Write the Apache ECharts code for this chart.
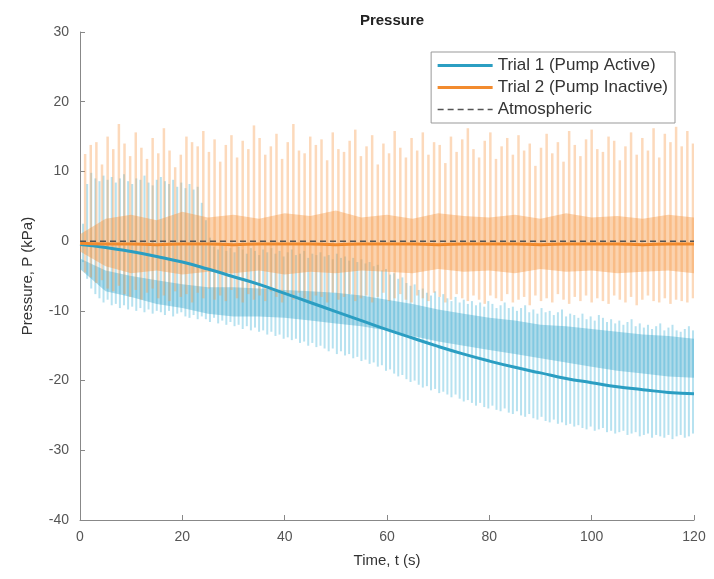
<!DOCTYPE html>
<html><head><meta charset="utf-8">
<script src="https://cdn.jsdelivr.net/npm/echarts@6/dist/echarts.min.js"></script>
<style>html,body{margin:0;padding:0;background:#fff}#c{width:714px;height:579px}</style>
</head><body><div id="c"></div>
<script>
// ---- Trial 2 (pump inactive): raw oscillation, one spike per cycle ----
const orangeT = [1.0,2.1,3.2,4.3,5.4,6.5,7.6,8.7,9.8,10.9,12.0,13.1,14.2,15.3,16.4,17.5,18.6,19.7,20.8,21.9,23.0,24.1,25.2,26.3,27.4,28.5,29.6,30.7,31.8,32.9,34.0,35.1,36.2,37.3,38.4,39.5,40.6,41.7,42.8,43.9,45.0,46.1,47.2,48.3,49.4,50.5,51.6,52.7,53.8,54.9,56.0,57.1,58.2,59.3,60.4,61.5,62.6,63.7,64.8,65.9,67.0,68.1,69.2,70.3,71.4,72.5,73.6,74.7,75.8,76.9,78.0,79.1,80.2,81.3,82.4,83.5,84.6,85.7,86.8,87.9,89.0,90.1,91.2,92.3,93.4,94.5,95.6,96.7,97.8,98.9,100.0,101.1,102.2,103.3,104.4,105.5,106.6,107.7,108.8,109.9,111.0,112.1,113.2,114.3,115.4,116.5,117.6,118.7,119.8];
const orangeMax = [12.5,13.8,14.2,11.0,15.0,13.2,16.8,14.0,12.2,15.6,13.4,11.8,14.8,12.6,16.2,13.0,10.6,12.4,15.0,14.2,13.6,15.8,12.8,14.6,11.4,13.8,15.2,12.0,14.4,13.2,
16.6,14.8,12.4,13.6,15.4,11.8,14.2,16.8,13.0,12.6,15.0,13.8,14.6,11.6,15.6,13.2,12.8,14.4,16.0,12.2,
13.6,15.2,11.0,14.0,12.6,15.8,13.4,12.0,14.8,13.0,15.6,12.4,14.2,13.8,11.2,15.0,12.8,14.6,16.2,13.2,
12.0,14.4,15.6,11.8,13.6,14.8,12.4,15.2,13.0,14.0,10.8,13.4,15.4,12.6,14.2,11.4,15.8,13.8,12.2,14.6,
16.0,13.2,12.8,15.0,14.4,11.6,13.6,15.6,12.4,14.8,13.0,16.2,12.0,15.4,14.2,16.4,13.6,15.8,14.0];
const orangeMin = [-4.5,-5.2,-6.0,-5.6,-6.8,-7.2,-6.4,-7.6,-8.0,-7.0,-8.4,-7.4,-6.8,-8.2,-7.8,-8.6,-7.2,-8.0,-7.6,-8.8,-7.4,-8.2,-6.8,-8.4,-7.8,-8.6,-7.0,-8.2,-8.8,-7.6,
-8.4,-7.8,-8.6,-7.2,-8.0,-8.8,-7.6,-8.4,-7.4,-8.2,-8.6,-7.8,-8.0,-8.8,-7.4,-8.4,-8.0,-7.6,-8.6,-8.2,
-7.8,-8.8,-8.0,-7.4,-8.6,-8.2,-7.6,-8.4,-8.8,-7.8,-8.2,-8.6,-7.4,-8.0,-8.8,-8.4,-7.6,-8.2,-8.6,-7.8,
-8.4,-9.0,-7.8,-8.2,-8.6,-7.6,-8.8,-8.4,-8.0,-9.2,-7.8,-8.6,-8.2,-8.8,-7.6,-8.4,-9.0,-8.0,-8.6,-7.8,
-8.8,-8.2,-8.6,-9.0,-7.8,-8.4,-8.8,-8.0,-9.2,-8.4,-7.8,-8.6,-8.8,-8.2,-9.0,-8.4,-8.6,-8.8,-8.2];

// ---- Trial 1 (pump active): raw oscillation ----
const blueT = [0.6,1.4,2.2,3.0,3.8,4.6,5.4,6.2,7.0,7.8,8.6,9.4,10.2,11.0,11.8,12.6,13.4,14.2,15.0,15.8,16.6,17.4,18.2,19.0,19.8,20.6,21.4,22.2,23.0,23.8,
24.6,25.4,26.2,27.0,27.8,28.6,29.4,30.2,31.0,31.8,32.6,33.4,34.2,35.0,35.8,36.6,37.4,38.2,39.0,39.8,40.6,41.4,42.2,43.0,43.8,44.6,45.4,46.2,47.0,47.8,
48.6,49.4,50.2,51.0,51.8,52.6,53.4,54.2,55.0,55.8,56.6,57.4,58.2,59.0,59.8,60.6,61.4,62.2,63.0,63.8,64.6,65.4,66.2,67.0,67.8,68.6,69.4,70.2,71.0,71.8,
72.6,73.4,74.2,75.0,75.8,76.6,77.4,78.2,79.0,79.8,80.6,81.4,82.2,83.0,83.8,84.6,85.4,86.2,87.0,87.8,88.6,89.4,90.2,91.0,91.8,92.6,93.4,94.2,95.0,95.8,
96.6,97.4,98.2,99.0,99.8,100.6,101.4,102.2,103.0,103.8,104.6,105.4,106.2,107.0,107.8,108.6,109.4,110.2,111.0,111.8,112.6,113.4,114.2,115.0,115.8,116.6,117.4,118.2,119.0,119.8];
const blueMax = [2.5,8.2,9.8,9.0,8.6,9.4,8.8,9.2,8.4,9.0,9.6,8.6,8.2,9.0,8.8,9.4,8.4,8.0,8.8,9.2,8.6,8.2,8.8,7.8,8.4,7.6,8.2,7.4,7.8,5.5,
3.0,0.5,-0.8,-1.2,-0.6,-1.4,-1.0,-1.6,-0.8,-1.2,-1.8,-1.0,-1.4,-2.0,-1.2,-1.6,-1.0,-1.8,-1.4,-2.2,-1.6,-1.2,-2.0,-1.8,-1.4,-2.4,-1.8,-2.0,-1.6,-2.2,
-2.0,-2.6,-1.8,-2.4,-2.2,-2.8,-2.4,-3.0,-2.6,-3.2,-3.0,-3.6,-3.4,-4.2,-4.0,-4.8,-4.6,-5.4,-5.2,-6.0,-6.4,-6.2,-7.0,-6.8,-7.4,-7.8,-7.2,-8.0,-7.6,-8.2,
-8.6,-8.0,-8.8,-8.4,-9.0,-8.6,-9.2,-8.8,-9.4,-8.6,-9.0,-9.6,-9.2,-8.8,-9.6,-9.4,-10.0,-9.6,-9.2,-10.2,-9.8,-10.4,-9.6,-10.2,-10.0,-10.6,-10.2,-9.8,-10.8,-10.4,
-10.6,-11.0,-10.4,-11.2,-10.8,-11.4,-10.6,-11.0,-11.6,-11.2,-11.8,-11.4,-12.0,-11.6,-11.2,-12.2,-11.8,-12.4,-12.0,-12.6,-12.2,-11.8,-12.8,-12.4,-12.0,-12.8,-13.0,-12.6,-12.2,-12.8];
const blueMin = [-3.0,-5.4,-6.8,-7.6,-8.2,-8.8,-8.4,-9.2,-9.0,-9.6,-9.2,-9.8,-9.4,-10.0,-9.6,-10.2,-9.8,-10.4,-10.0,-10.2,-10.6,-10.0,-10.8,-10.4,-10.2,-10.8,-11.0,-10.6,-11.2,-10.8,
-11.2,-11.6,-11.0,-11.8,-11.4,-12.0,-11.6,-12.2,-12.0,-12.6,-12.2,-12.8,-12.4,-13.0,-12.8,-13.4,-13.0,-13.6,-13.4,-14.0,-13.8,-14.2,-14.0,-14.6,-14.4,-15.0,-14.6,-15.2,-15.0,-15.4,
-15.8,-15.4,-16.2,-15.8,-16.4,-16.2,-16.8,-16.6,-17.2,-17.0,-17.6,-17.4,-18.0,-17.8,-18.6,-18.4,-19.0,-19.4,-19.2,-19.8,-20.2,-20.0,-20.6,-21.0,-20.8,-21.4,-21.2,-21.8,-21.6,-22.0,
-22.4,-22.0,-22.6,-23.0,-22.8,-23.2,-23.6,-23.2,-23.8,-24.0,-23.6,-24.2,-24.4,-24.0,-24.6,-24.8,-24.4,-25.0,-25.2,-24.8,-25.4,-25.6,-25.2,-25.8,-26.0,-25.6,-26.2,-26.0,-26.4,-26.2,
-26.6,-26.4,-26.8,-27.0,-26.6,-27.2,-27.0,-26.8,-27.4,-27.2,-27.6,-27.4,-27.2,-27.8,-27.6,-27.4,-28.0,-27.8,-27.6,-28.2,-27.8,-28.0,-28.2,-27.8,-28.4,-28.0,-27.8,-28.2,-28.0,-27.6];

// ---- dense (most-visited) bands of each raw signal ----
const bandT = [0,5,10,15,20,25,30,35,40,45,50,55,60,65,70,75,80,85,90,95,100,105,110,115,120];
const orangeBandHi = [1.0,3.2,3.8,3.0,4.2,3.4,3.8,3.2,4.0,3.6,4.4,3.4,3.8,3.2,4.0,3.6,3.4,3.8,3.2,4.0,3.4,3.6,3.2,3.8,3.4];
const orangeBandLo = [-1.5,-3.6,-4.6,-4.2,-4.8,-4.4,-4.6,-4.2,-4.8,-4.4,-4.6,-4.2,-4.4,-4.6,-4.0,-4.4,-4.2,-4.6,-4.0,-4.4,-4.2,-4.6,-4.4,-4.2,-4.6];
const blueBandHi = [-2.5,-4.2,-5.0,-5.6,-6.2,-6.6,-6.6,-6.8,-7.0,-7.2,-7.4,-7.8,-8.4,-9.0,-9.8,-10.4,-11.0,-11.4,-12.0,-12.2,-12.6,-13.0,-13.4,-13.6,-14.0];
const blueBandLo = [-4.0,-7.2,-8.0,-9.0,-9.6,-10.4,-10.8,-10.8,-11.0,-11.4,-11.8,-12.2,-12.8,-13.6,-14.4,-15.0,-15.6,-16.2,-16.8,-17.4,-18.0,-18.6,-19.0,-19.4,-19.6];

// ---- smoothed traces ----
const smoothT = [0,5,10,15,20,25,30,35,40,45,50,55,60,65,70,75,80,85,90,95,100,105,110,115,120];
const trial1Smooth = [-0.5,-0.9,-1.5,-2.2,-3.0,-4.0,-5.1,-6.2,-7.5,-8.8,-10.1,-11.4,-12.7,-13.9,-15.1,-16.2,-17.2,-18.1,-18.9,-19.7,-20.3,-20.9,-21.3,-21.7,-21.9];
const trial2Smooth = [-0.3,-0.4,-0.4,-0.5,-0.4,-0.4,-0.5,-0.4,-0.4,-0.4,-0.5,-0.4,-0.4,-0.4,-0.5,-0.4,-0.4,-0.4,-0.5,-0.4,-0.4,-0.4,-0.5,-0.4,-0.4];
const atmT = [0,120];
const atmP = [0,0];

const xTicks = {min:0, max:120, interval:20};
const yTicks = {min:-40, max:30, interval:10};

const BLUE = '#2b9ec2', ORANGE = '#f28b2e';
const FONT = 'Liberation Sans, Arial, sans-serif';

function spikeSeries(ts, lo, hi, color, w){
  return {
    type:'custom', silent:true, clip:true,
    data: ts.map((t,i)=>[t, lo[i], hi[i]]),
    encode:{x:0, y:[1,2]},
    renderItem:function(params, api){
      const a = api.coord([api.value(0), api.value(1)]);
      const b = api.coord([api.value(0), api.value(2)]);
      return {type:'line', shape:{x1:a[0],y1:a[1],x2:b[0],y2:b[1]}, style:{stroke:color, lineWidth:w}};
    }
  };
}
function bandSeries(ts, lo, hi, color){
  return {
    type:'custom', silent:true, clip:true,
    data: ts.map((t,i)=>[t, lo[i], hi[i]]),
    encode:{x:0, y:[1,2]},
    renderItem:function(params, api){
      if (params.dataIndex !== 0) return null;
      const pts = [];
      for (let i=0;i<ts.length;i++) pts.push(api.coord([ts[i], hi[i]]));
      for (let i=ts.length-1;i>=0;i--) pts.push(api.coord([ts[i], lo[i]]));
      return {type:'polygon', shape:{points:pts, smooth:0}, style:{fill:color}};
    }
  };
}

const chart = echarts.init(document.getElementById('c'), null, {renderer:'canvas'});
chart.setOption({
  backgroundColor:'#fff',
  animation:false,
  textStyle:{fontFamily:FONT},
  title:{text:'Pressure', left:387, top:8, textAlign:'center',
    textStyle:{fontSize:15, fontWeight:'bold', color:'#222', fontFamily:FONT}},
  grid:{left:80, right:20, top:32, bottom:59, containLabel:false},
  legend:{
    data:[
      {name:'Trial 1 (Pump Active)', lineStyle:{width:3}},
      {name:'Trial 2 (Pump Inactive)', lineStyle:{width:3}},
      {name:'Atmospheric', lineStyle:{width:1.5}}
    ],
    orient:'vertical', right:39, top:52, itemWidth:55, itemHeight:14, itemGap:5,
    padding:[5,7,5,5], borderColor:'#999', borderWidth:1, backgroundColor:'#fff',
    itemStyle:{opacity:0},
    textStyle:{fontSize:17, color:'#333', fontFamily:FONT}
  },
  xAxis:{type:'value', min:xTicks.min, max:xTicks.max, interval:xTicks.interval,
    name:'Time, t (s)', nameLocation:'middle', nameGap:33,
    nameTextStyle:{fontSize:15, color:'#333'},
    axisLine:{show:true, onZero:false, lineStyle:{color:'#888', width:1}},
    axisTick:{show:true, inside:true, length:5, lineStyle:{color:'#888'}},
    axisLabel:{fontSize:14, color:'#555', margin:10},
    splitLine:{show:false}},
  yAxis:{type:'value', min:yTicks.min, max:yTicks.max, interval:yTicks.interval,
    name:'Pressure, P (kPa)', nameLocation:'middle', nameGap:45,
    nameTextStyle:{fontSize:15, color:'#333'},
    axisLine:{show:true, onZero:false, lineStyle:{color:'#888', width:1}},
    axisTick:{show:true, inside:true, length:5, lineStyle:{color:'#888'}},
    axisLabel:{fontSize:14, color:'#555', margin:11},
    splitLine:{show:false}},
  series:[
    spikeSeries(blueT, blueMin, blueMax, 'rgba(95,190,222,0.45)', 2),
    bandSeries(bandT, blueBandLo, blueBandHi, 'rgba(45,160,200,0.38)'),
    spikeSeries(orangeT, orangeMin, orangeMax, 'rgba(248,155,75,0.38)', 2.5),
    bandSeries(bandT, orangeBandLo, orangeBandHi, 'rgba(246,145,55,0.40)'),
    {name:'Trial 1 (Pump Active)', type:'line', showSymbol:false, symbol:'none', smooth:true,
      data: smoothT.map((t,i)=>[t, trial1Smooth[i]]),
      lineStyle:{color:BLUE, width:3}, itemStyle:{color:BLUE}},
    {name:'Trial 2 (Pump Inactive)', type:'line', showSymbol:false, symbol:'none', smooth:true,
      data: smoothT.map((t,i)=>[t, trial2Smooth[i]]),
      lineStyle:{color:ORANGE, width:3}, itemStyle:{color:ORANGE}},
    {name:'Atmospheric', type:'line', showSymbol:false, symbol:'none',
      data: atmT.map((t,i)=>[t, atmP[i]]),
      lineStyle:{color:'#555', width:1.5, type:[6,4]}, itemStyle:{color:'#555'}}
  ]
});
</script></body></html>
